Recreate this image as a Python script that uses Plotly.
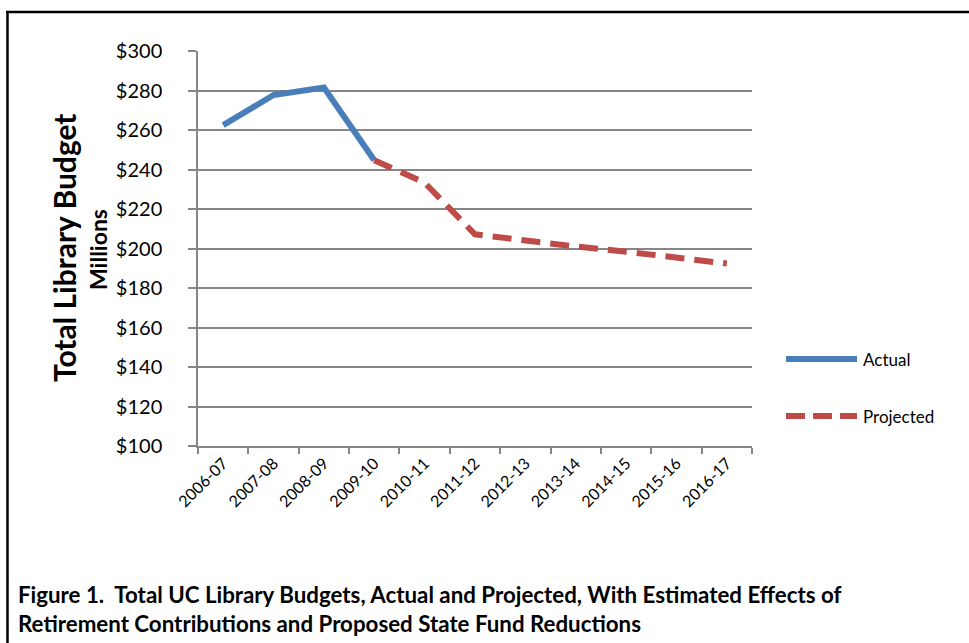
import plotly.graph_objects as go

years = ["2006-07", "2007-08", "2008-09", "2009-10", "2010-11", "2011-12",
         "2012-13", "2013-14", "2014-15", "2015-16", "2016-17"]
actual = [262.5, 277.7, 281.5, 244.7, None, None, None, None, None, None, None]
projected = [None, None, None, 244.7, 233.3, 207.2, 204.0, 201.0, 198.4, 195.4, 192.4]
y_ticks = [100, 120, 140, 160, 180, 200, 220, 240, 260, 280, 300]
y_tick_text = ["$" + str(v) for v in y_ticks]

BLUE = "#4A7EBB"
RED = "#BE4B48"
GRID = "#868686"
FONT = "Lato"

W, H = 969, 643
L, R, T, B = 198, 217, 51, 197
PW, PH = W - L - R, H - T - B


def px(x):
    return (x - L) / PW


def py(y):
    return 1 - (y - T) / PH


fig = go.Figure()
fig.add_trace(go.Scatter(x=years, y=actual, name="Actual", mode="lines",
                         line=dict(color=BLUE, width=6), showlegend=False))
fig.add_trace(go.Scatter(x=years, y=projected, name="Projected", mode="lines",
                         line=dict(color=RED, width=6, dash="19px,10px"), showlegend=False))

shapes = []
annotations = []

# manual legend
for name, color, dash, ypix in [("Actual", BLUE, "solid", 359), ("Projected", RED, "19px,8px", 416)]:
    shapes.append(dict(type="line", xref="paper", yref="paper",
                       x0=px(786), x1=px(857), y0=py(ypix), y1=py(ypix),
                       line=dict(color=color, width=6, dash=dash)))
    annotations.append(dict(text=name, xref="paper", yref="paper", x=px(861), y=py(ypix),
                            xanchor="left", yanchor="middle", showarrow=False,
                            font=dict(size=17, color="#000", family=FONT)))

# axis titles
annotations.append(dict(text="<b>Total Library Budget</b>", xref="paper", yref="paper",
                        x=px(64), y=py(248), textangle=-90, showarrow=False,
                        xanchor="center", yanchor="middle",
                        font=dict(size=30, color="#000", family=FONT)))
annotations.append(dict(text="<b>Millions</b>", xref="paper", yref="paper",
                        x=px(98), y=py(250), textangle=-90, showarrow=False,
                        xanchor="center", yanchor="middle",
                        font=dict(size=23, color="#000", family=FONT)))

# caption
annotations.append(dict(text="<b>Figure 1.  Total UC Library Budgets, Actual and Projected, With Estimated Effects of</b><br>"
                             "<b>Retirement Contributions and Proposed State Fund Reductions</b>",
                        xref="paper", yref="paper", x=px(16), y=py(609),
                        xanchor="left", yanchor="middle", align="left", showarrow=False,
                        font=dict(size=22.3, color="#000", family=FONT)))

# frame (left and top border)
shapes.append(dict(type="line", xref="paper", yref="paper",
                   x0=px(7.5), x1=px(7.5), y0=py(12), y1=py(650), line=dict(color="#000", width=2.5)))
shapes.append(dict(type="line", xref="paper", yref="paper",
                   x0=px(6), x1=px(975), y0=py(12), y1=py(12), line=dict(color="#000", width=2.5)))

fig.update_layout(
    width=W, height=H,
    margin=dict(l=L, r=R, t=T, b=B),
    paper_bgcolor="white", plot_bgcolor="white",
    font=dict(family=FONT, color="#000"),
    shapes=shapes, annotations=annotations,
    showlegend=False,
)
fig.update_xaxes(type="category", range=[-0.5, 10.5], tickson="boundaries",
                 ticks="outside", ticklen=6, tickcolor=GRID, tickwidth=1.5,
                 showline=True, linecolor=GRID, linewidth=1.5,
                 showgrid=False, tickangle=-45, tickfont=dict(size=16, family=FONT),
                 categoryorder="array", categoryarray=years)
fig.update_yaxes(range=[100, 300], tickmode="array", tickvals=y_ticks, ticktext=y_tick_text,
                 ticks="outside", ticklen=8, tickcolor=GRID, tickwidth=1.5,
                 showline=True, linecolor=GRID, linewidth=1.5,
                 showgrid=True, gridcolor=GRID, gridwidth=1.5, zeroline=False,
                 tickfont=dict(size=20, family=FONT), ticklabelstandoff=22)

fig.write_html("out.html", config={"displayModeBar": False},
               post_script="document.body.style.margin='0px';document.body.style.overflow='hidden';")
